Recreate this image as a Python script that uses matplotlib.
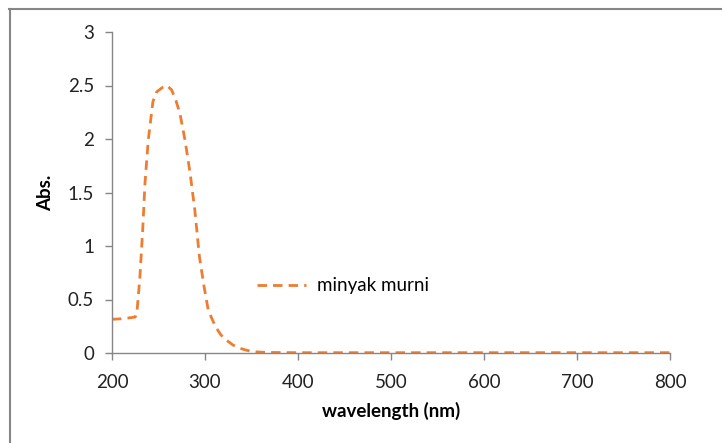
import matplotlib
matplotlib.use("Agg")
import matplotlib.pyplot as plt
from matplotlib.lines import Line2D

# absorbance spectrum
wavelength = [200, 210, 220, 225, 227, 230, 233, 235.5, 239, 244, 248, 254, 259,
              264, 268, 273, 278.5, 284, 289, 294, 299, 303.5, 311, 317, 323,
              330, 337.6, 345, 352, 359, 370, 385, 400, 450, 500, 550, 600,
              650, 700, 750, 800]
absorb = [0.315, 0.32, 0.33, 0.336, 0.40, 0.71, 1.15, 1.59, 1.99, 2.35, 2.44,
          2.48, 2.50, 2.46, 2.38, 2.24, 1.99, 1.68, 1.34, 0.90, 0.62, 0.40,
          0.25, 0.17, 0.12, 0.075, 0.044, 0.025, 0.013, 0.008, 0.005, 0.004,
          0.003, 0.003, 0.003, 0.003, 0.003, 0.003, 0.003, 0.003, 0.003]
series_name = "minyak murni"
xticks = [200, 300, 400, 500, 600, 700, 800]
yticks = [0, 0.5, 1, 1.5, 2, 2.5, 3]
ytick_labels = ["0", "0.5", "1", "1.5", "2", "2.5", "3"]

plt.rcParams['font.family'] = ['Lato', 'DejaVu Sans']

fig = plt.figure(figsize=(7.22, 4.43), dpi=100)
ax = fig.add_axes([112 / 722, 1 - 353 / 443, (670 - 112) / 722, (353 - 32) / 443])

orange = "#ED7D31"
ax.plot(wavelength, absorb, color=orange, lw=2.0, dashes=(3.4, 2.2),
        label=series_name)

ax.set_xlim(200, 800)
ax.set_ylim(0, 3)
ax.set_xticks(xticks)
ax.set_yticks(yticks)
ax.set_yticklabels(ytick_labels)

for side in ("top", "right"):
    ax.spines[side].set_visible(False)
for side in ("left", "bottom"):
    ax.spines[side].set_color("#868686")
    ax.spines[side].set_linewidth(1.0)
ax.tick_params(direction="out", length=5, width=1, color="#868686",
               labelsize=13.5, labelcolor="#222222")
ax.tick_params(axis="x", pad=10)
ax.tick_params(axis="y", pad=8)

ax.set_xlabel("wavelength (nm)", fontsize=13.5, fontweight="bold", labelpad=8)
ax.set_ylabel("Abs.", fontsize=13.5, fontweight="bold", labelpad=10)

ax.legend(loc="center left", bbox_to_anchor=(0.23, 0.21), frameon=False,
          fontsize=13.5, handlelength=2.6, handletextpad=0.6)

# outer chart frame (top and left only visible)
fig.add_artist(Line2D([9 / 722, 1], [1 - 8.5 / 443, 1 - 8.5 / 443],
                      transform=fig.transFigure, color="#868686", lw=1.5))
fig.add_artist(Line2D([9.5 / 722, 9.5 / 722], [0, 1 - 8.5 / 443],
                      transform=fig.transFigure, color="#868686", lw=1.5))

fig.savefig("out.png", dpi=100)
